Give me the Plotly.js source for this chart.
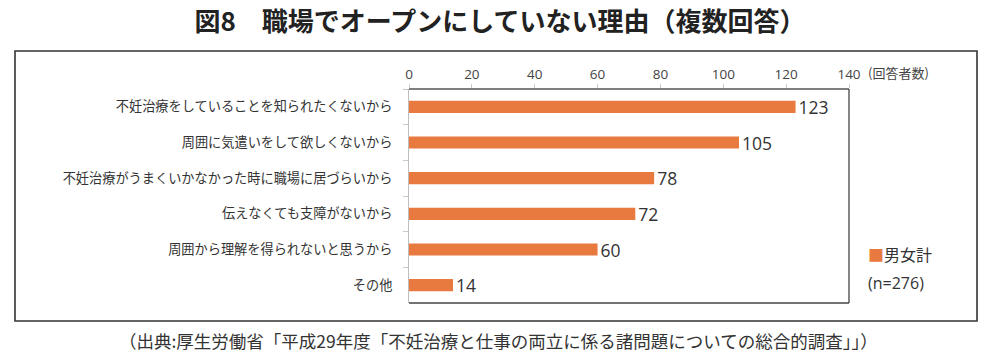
<!DOCTYPE html>
<html>
<head>
<meta charset="utf-8">
<script src="https://cdn.plot.ly/plotly-3.0.1.min.js"></script>
<style>html,body{margin:0;padding:0;background:#fff;}#chart{width:1000px;height:358px;}</style>
</head>
<body>
<div id="chart"></div>
<script>
const categories = [
  "不妊治療をしていることを知られたくないから",
  "周囲に気遣いをして欲しくないから",
  "不妊治療がうまくいかなかった時に職場に居づらいから",
  "伝えなくても支障がないから",
  "周囲から理解を得られないと思うから",
  "その他"
];
const values = [123, 105, 78, 72, 60, 14];
const xTickValues = [0, 20, 40, 60, 80, 100, 120, 140];
const seriesName = "男女計";
const sampleNote = "(n=276)";
const unitLabel = "(回答者数)";
const titleText = "図8　職場でオープンにしていない理由（複数回答）";
const sourceText = "（出典:厚生労働省「平成29年度「不妊治療と仕事の両立に係る諸問題についての総合的調査」」）";

const FONT = '"Noto Sans CJK JP", "Noto Sans", sans-serif';
const NUMFONT = '"Open Sans", "Noto Sans", sans-serif';
const ORANGE = '#E97A3F';

// plot area in pixels: x 409..849, y 89..303
const L = 409, R = 849, T = 89, B = 303;
const W = R - L, H = B - T;
const px = x => (x - L) / W;
const py = y => (B - y) / H;

const trace = {
  type: 'bar',
  orientation: 'h',
  y: categories,
  x: values,
  marker: {color: ORANGE},
  text: values.map(String),
  textposition: 'outside',
  constraintext: 'none',
  cliponaxis: false,
  textfont: {family: NUMFONT, size: 17.5, color: '#333'},
  showlegend: false,
  hoverinfo: 'none'
};

const layout = {
  width: 1000, height: 358,
  margin: {l: L, r: 1000 - R, t: T, b: 358 - B, pad: 0},
  paper_bgcolor: '#fff', plot_bgcolor: '#fff',
  font: {family: FONT, color: '#333'},
  bargap: 0.66,
  uniformtext: {mode: false},
  title: {
    text: '<b>' + titleText + '</b>',
    font: {family: FONT, size: 26, color: '#222'},
    x: 0.5, xref: 'container', xanchor: 'center',
    y: 1 - 22/358, yref: 'container', yanchor: 'middle'
  },
  xaxis: {
    side: 'top', range: [0, 140], tickvals: xTickValues,
    showgrid: false, zeroline: false, showline: false,
    ticks: 'outside', ticklen: 4, tickcolor: '#c8c8c8', tickwidth: 1,
    tickfont: {family: NUMFONT, size: 13.5, color: '#444'},
    fixedrange: true
  },
  yaxis: {
    type: 'category', autorange: 'reversed',
    showgrid: false, zeroline: false,
    showline: true, linecolor: '#bdbdbd', linewidth: 1,
    ticks: 'outside', tickson: 'boundaries', ticklen: 5, tickcolor: '#c8c8c8',
    tickfont: {family: FONT, size: 13.2, color: '#333'},
    ticklabelstandoff: 13,
    fixedrange: true
  },
  shapes: [
    // outer frame
    {type: 'rect', xref: 'paper', yref: 'paper', x0: px(15), x1: px(977), y0: py(321), y1: py(51),
     line: {color: '#333', width: 1.6}, layer: 'below'},
    // plot box: top, right, bottom
    {type: 'line', xref: 'paper', yref: 'paper', x0: 0, x1: 1, y0: 1, y1: 1, line: {color: '#555', width: 1.3}},
    {type: 'line', xref: 'paper', yref: 'paper', x0: 1, x1: 1, y0: 0, y1: 1, line: {color: '#444', width: 1.3}},
    {type: 'line', xref: 'paper', yref: 'paper', x0: 0, x1: 1, y0: 0, y1: 0, line: {color: '#444', width: 1.3}}
  ],
  annotations: [
    {xref: 'x', yref: 'paper', x: 140, y: 1, xshift: 17, yshift: 17,
     xanchor: 'left', yanchor: 'middle', showarrow: false,
     text: unitLabel, font: {family: FONT, size: 13, color: '#444'}},
    {xref: 'paper', yref: 'paper', x: px(866), y: py(254), xanchor: 'left', yanchor: 'middle', showarrow: false,
     text: '<span style="color:' + ORANGE + '">■</span>' + seriesName, font: {family: FONT, size: 16, color: '#333'}},
    {xref: 'paper', yref: 'paper', x: px(866), y: py(283), xanchor: 'left', yanchor: 'middle', showarrow: false,
     text: sampleNote, font: {family: NUMFONT, size: 16, color: '#333'}},
    {xref: 'paper', yref: 'paper', x: px(498), y: py(340), xanchor: 'center', yanchor: 'middle', showarrow: false,
     text: sourceText, font: {family: FONT, size: 17.5, color: '#333'}}
  ]
};

Plotly.newPlot('chart', [trace], layout, {staticPlot: true, displayModeBar: false});
</script>
</body>
</html>
